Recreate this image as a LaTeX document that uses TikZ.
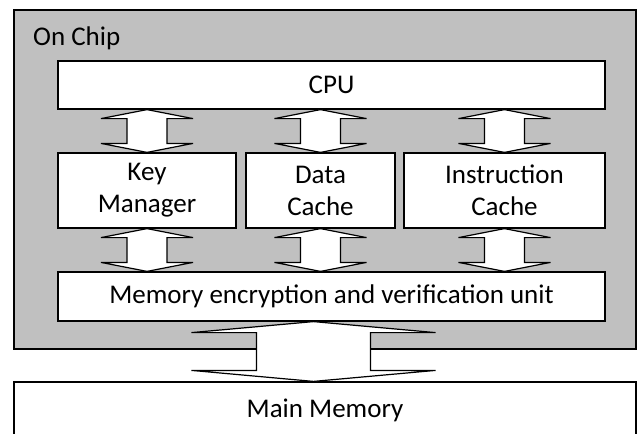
\documentclass[tikz,border=0pt]{standalone}
\usepackage{fontspec}
\setmainfont{Carlito}
\usepackage{xcolor}
\usetikzlibrary{calc}

\definecolor{chipgray}{RGB}{192,192,192}

% double headed block arrow: top point, bottom point, shaft half, head half, head length
\newcommand{\twoway}[5]{%
  \draw[fatarrow] let \p1=#1, \p2=#2 in
    (\x1,\y1) -- (\x1+#4,\y1-#5) -- (\x1+#3,\y1-#5) -- (\x1+#3,\y2+#5)
    -- (\x1+#4,\y2+#5) -- (\x1,\y2) -- (\x1-#4,\y2+#5) -- (\x1-#3,\y2+#5)
    -- (\x1-#3,\y1-#5) -- (\x1-#4,\y1-#5) -- cycle;}

\tikzset{
  block/.style={draw, fill=white, line width=1.2pt, inner sep=0pt, align=center,
    font=\fontsize{27}{32}\selectfont},
  fatarrow/.style={draw, fill=white, line width=1.2pt, line join=miter},
}

\begin{document}
\begin{tikzpicture}[x=1pt, y=-1pt]
    \useasboundingbox (0,0) rectangle (638,434);

    % 1. Chip and main memory
    \node[draw, fill=chipgray, line width=1.2pt, minimum width=622pt, minimum height=339pt]
        (chip) at (325,179.5) {};
    \node[anchor=base west, inner sep=0pt, font=\fontsize{27}{32}\selectfont] (chiplabel) at (33,45) {On Chip};
    \node[block, minimum width=622pt, minimum height=56pt] (mainmem) at (325,410) {Main Memory};

    % 2. Blocks on the chip
    \node[block, minimum width=547pt, minimum height=48pt] (cpu) at (331.5,85) {CPU};
    \node[block, minimum width=178pt, minimum height=75pt] (keymgr) at (147,190.5) {Key\\Manager};
    \node[block, minimum width=149pt, minimum height=75pt] (dcache) at (320.5,190.5) {Data\\Cache};
    \node[block, minimum width=201pt, minimum height=75pt] (icache) at (504.5,190.5) {Instruction\\Cache};
    \node[block, minimum width=547pt, minimum height=49pt] (menc) at (331.5,296.5)
        {Memory encryption and verification unit};

    % 3. Block arrows
    \foreach \b in {keymgr, dcache, icache} {
        \twoway{(cpu.south -| \b.north)}{(\b.north)}{20pt}{46pt}{9pt}
    }
    \foreach \a in {keymgr, dcache, icache} {
        \twoway{(\a.south)}{(\a.south |- menc.north)}{20pt}{46pt}{9pt}
    }
    \twoway{([xshift=-18pt]menc.south)}{(mainmem.north)}{57pt}{122pt}{11pt}
\end{tikzpicture}
\end{document}
